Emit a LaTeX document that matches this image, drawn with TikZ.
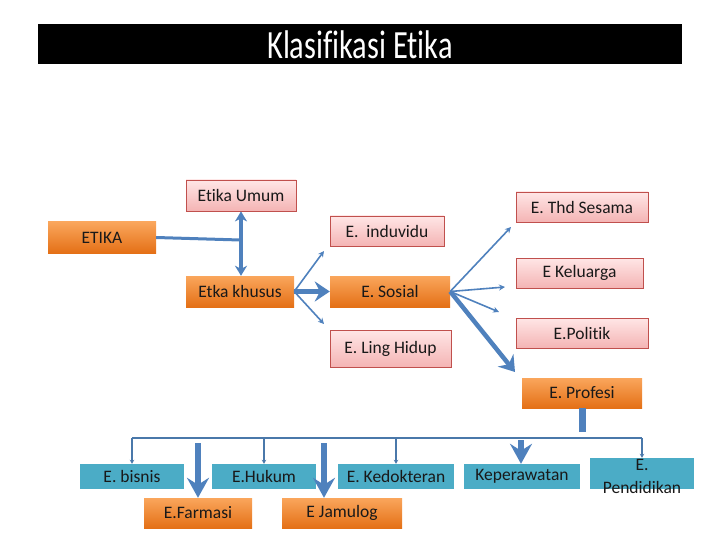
\documentclass[tikz,border=0pt]{standalone}
\usepackage{fontspec}
\setmainfont{Carlito}[Ligatures=NoCommon]
\newfontfamily\titlefont[FakeStretch=0.76,Ligatures=NoCommon]{Carlito}
\usetikzlibrary{arrows.meta}
\definecolor{conn}{HTML}{4F81BD}
\definecolor{busc}{HTML}{4A78AA}
\definecolor{orTop}{RGB}{250,166,92}
\definecolor{orBot}{RGB}{228,112,22}
\definecolor{pkTop}{RGB}{255,230,230}
\definecolor{pkBot}{RGB}{244,180,180}
\definecolor{pkBorder}{RGB}{192,80,77}
\definecolor{blBox}{HTML}{4BACC6}
\begin{document}
\begin{tikzpicture}[x=1pt,y=-1pt,
  every node/.style={font=\fontsize{17.5}{19}\selectfont, text=black!90, inner sep=0pt},
  orangebox/.style={rectangle, top color=orTop, bottom color=orBot, draw=none},
  pinkbox/.style={rectangle, top color=pkTop, bottom color=pkBot, draw=pkBorder, line width=0.8pt},
  bluebox/.style={rectangle, fill=blBox, draw=none},
  bigarrow/.style={draw=conn, line width=4.5pt, -{Stealth[length=15pt,width=20pt,inset=5pt]}},
  dblarrow/.style={draw=conn, line width=3.5pt, {Stealth[length=10pt,width=12pt,inset=3pt]}-{Stealth[length=10pt,width=12pt,inset=3pt]}},
  thinarrow/.style={draw=conn, line width=1.6pt, -{Stealth[length=6pt,width=6pt]}},
  plainline/.style={draw=conn, line width=3pt},
  busline/.style={draw=busc, line width=1.5pt},
  dropline/.style={draw=busc, line width=1.5pt, -{Stealth[length=4pt,width=4.5pt]}},
  downarrow/.style={draw=conn, line width=6pt, -{Stealth[length=20pt,width=22pt,inset=7pt]}}
]
\path[use as bounding box] (0,0) rectangle (720,540);

% title
\node[fill=black, minimum width=644pt, minimum height=40pt] (title) at (360,44) {};
\node[text=white, font=\titlefont\fontsize{40}{44}\selectfont] (titletext) at (360,45) {Klasifikasi Etika};

% upper nodes
\node[pinkbox, minimum width=110pt, minimum height=31pt] (umum) at (241,195.5) {Etika Umum};
\node[orangebox, minimum width=108pt, minimum height=31pt] (etika) at (102,237.5) {ETIKA};
\node[orangebox, minimum width=108pt, minimum height=31pt] (khusus) at (240,291.5) {Etka khusus};
\node[pinkbox, minimum width=114pt, minimum height=30pt] (induvidu) at (387,231) {E.\ \ induvidu};
\node[orangebox, minimum width=120pt, minimum height=31pt] (sosial) at (390,291.5) {E. Sosial};
\node[pinkbox, minimum width=121pt, minimum height=37pt] (ling) at (390.5,348.5) {E. Ling Hidup};
\node[pinkbox, minimum width=132pt, minimum height=30pt] (sesama) at (582,207) {E. Thd Sesama};
\node[pinkbox, minimum width=127pt, minimum height=30pt] (keluarga) at (579.5,273) {E Keluarga};
\node[pinkbox, minimum width=132pt, minimum height=30pt] (politik) at (582,333) {E.Politik};
\node[orangebox, minimum width=120pt, minimum height=30pt] (profesi) at (582,393) {E. Profesi};

% lower nodes
\node[bluebox, minimum width=104pt, minimum height=25pt] (bisnis) at (132,476.5) {E. bisnis};
\node[bluebox, minimum width=104pt, minimum height=25pt] (hukum) at (264,476.5) {E.Hukum};
\node[bluebox, minimum width=116pt, minimum height=25pt] (kedokteran) at (396,476.5) {E. Kedokteran};
\node[bluebox, minimum width=116pt, minimum height=25pt] (keperawatan) at (522,476.5) {Keperawatan};
\node[bluebox, minimum width=104pt, minimum height=31pt] (pendidikan) at (642,473.5) {};
\node[align=center, font=\fontsize{17.5}{23}\selectfont] (pendtext) at (642,476) {E.\\Pendidikan};
\node[orangebox, minimum width=108pt, minimum height=30pt] (farmasi) at (198,513) {E.Farmasi};
\node[orangebox, minimum width=120pt, minimum height=30pt] (jamulog) at (342,513) {E Jamulog};

% coordinates
\coordinate (j1) at (240,240);
\coordinate (k1) at (324,251);
\coordinate (k2) at (324,324);
\coordinate (s1) at (511,227);
\coordinate (s2) at (505,287);
\coordinate (s3) at (499,312);
\coordinate (s4) at (515,372);
\coordinate (pbar) at (582,432);
\coordinate (busL) at (132,438);
\coordinate (busR) at (642,438);

% upper connectors
\draw[plainline] (etika.east) -- (j1);
\draw[dblarrow] (umum.south) -- (umum.south |- khusus.north);
\draw[bigarrow] (khusus.east) -- (sosial.west);
\draw[thinarrow] (khusus.east) -- (k1);
\draw[thinarrow] (khusus.east) -- (k2);
\draw[thinarrow] (sosial.east) -- (s1);
\draw[thinarrow] (sosial.east) -- (s2);
\draw[thinarrow] (sosial.east) -- (s3);
\draw[bigarrow] (sosial.east) -- (s4);

% lower connectors
\draw[draw=conn, line width=7pt] (profesi.south) -- (pbar);
\draw[busline] (busL) -- (busR);
\draw[dropline] (bisnis.north |- busL) -- (bisnis.north);
\draw[dropline] (hukum.north |- busL) -- (hukum.north);
\draw[dropline] (kedokteran.north |- busL) -- (kedokteran.north);
\draw[dropline] (busR) -- (pendidikan.north);
\draw[downarrow] ([yshift=-5pt]farmasi.north |- busL) -- (farmasi.north);
\draw[downarrow] ([xshift=-18pt,yshift=-5pt]jamulog.north |- busL) -- ([xshift=-18pt]jamulog.north);
\draw[downarrow] ([xshift=-1pt,yshift=-2pt]keperawatan.north |- busL) -- ([xshift=-1pt]keperawatan.north);
\end{tikzpicture}
\end{document}
